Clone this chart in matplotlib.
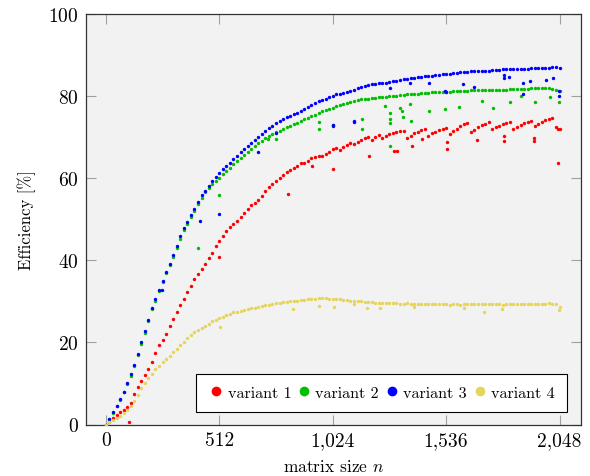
import numpy as np
import matplotlib
matplotlib.use("Agg")
import matplotlib.pyplot as plt
from matplotlib.ticker import FuncFormatter, MultipleLocator
from matplotlib.lines import Line2D

plt.rcParams['font.family'] = ['cmr10', 'DejaVu Serif']
plt.rcParams['mathtext.fontset'] = 'cm'
plt.rcParams['axes.formatter.use_mathtext'] = True

# matrix sizes (regular grid, step 16)
n = np.arange(0, 2049, 16)

variant1 = [
    0.0, 0.7, 1.5, 2.3, 3.0, 3.5, 4.2, 5.2,
    7.5, 9.2, 10.6, 12.0, 13.5, 15.2, 17.3, 19.3,
    20.6, 22.0, 24.0, 25.8, 27.4, 29.0, 30.5, 32.2,
    33.8, 35.4, 36.6, 37.8, 39.2, 40.5, 41.8, 43.5,
    44.8, 46.0, 47.2, 48.2, 48.8, 49.6, 50.6, 51.6,
    52.6, 53.4, 54.0, 54.8, 55.6, 56.8, 57.8, 58.6,
    59.3, 60.0, 60.8, 61.4, 61.9, 62.4, 63.0, 63.6,
    63.8, 64.2, 64.8, 65.2, 65.5, 65.3, 65.9, 66.5,
    67.0, 67.3, 66.9, 67.5, 68.1, 68.6, 68.3, 68.8,
    69.3, 69.7, 70.1, 69.4, 70.0, 70.6, 69.8, 70.3,
    70.7, 71.0, 71.3, 71.5, 71.6, 69.9, 70.4, 70.9,
    71.3, 71.8, 72.0, 70.4, 70.9, 71.3, 71.7, 72.1,
    72.2, 70.8, 71.5, 72.1, 72.7, 73.1, 73.4, 71.3,
    71.8, 72.4, 72.9, 73.3, 73.6, 72.0, 72.4, 72.8,
    73.2, 73.5, 73.7, 72.0, 72.5, 73.0, 73.4, 73.8,
    74.0, 72.8, 73.2, 73.7, 74.1, 74.4, 74.7, 72.4,
    72.0]

variant2 = [
    0.0, 1.3, 2.8, 4.4, 6.0, 7.8, 9.8, 11.9,
    14.2, 16.9, 19.7, 22.4, 25.1, 28.1, 30.1, 32.4,
    34.6, 36.8, 38.8, 40.9, 43.1, 45.3, 47.3, 48.9,
    50.5, 52.0, 53.6, 55.1, 56.6, 57.6, 58.5, 59.3,
    60.1, 61.0, 61.8, 62.6, 63.4, 64.2, 65.0, 65.7,
    66.4, 67.1, 67.8, 68.5, 69.1, 69.7, 70.2, 70.7,
    71.2, 71.6, 72.0, 72.4, 72.8, 73.2, 73.5, 73.9,
    74.3, 74.7, 75.1, 75.5, 75.9, 76.3, 76.6, 76.9,
    77.2, 77.5, 77.8, 78.1, 78.4, 78.6, 78.8, 79.0,
    79.2, 79.3, 79.4, 79.5, 79.6, 79.7, 79.8, 79.9,
    80.0, 80.0, 80.1, 80.2, 80.3, 80.4, 80.5, 80.5,
    80.6, 80.7, 80.8, 80.8, 80.9, 80.9, 81.0, 81.0,
    81.1, 81.1, 81.2, 81.2, 81.3, 81.3, 81.3, 81.4,
    81.4, 81.4, 81.5, 81.5, 81.5, 81.5, 81.5, 81.6,
    81.6, 81.6, 81.7, 81.7, 81.7, 81.8, 81.8, 81.8,
    81.9, 81.9, 81.9, 81.9, 81.9, 81.9, 81.8, 81.6,
    81.3]

variant3 = [
    0.0, 1.4, 3.0, 4.6, 6.2, 8.0, 10.0, 12.2,
    14.5, 17.2, 20.0, 22.7, 25.4, 28.5, 30.5, 32.8,
    35.0, 37.2, 39.2, 41.3, 43.6, 45.8, 47.8, 49.4,
    51.0, 52.5, 54.2, 55.8, 57.0, 58.2, 59.2, 60.2,
    61.2, 62.2, 63.0, 63.8, 64.7, 65.5, 66.3, 67.0,
    67.8, 68.6, 69.4, 70.1, 70.8, 71.5, 72.2, 72.8,
    73.4, 73.9, 74.4, 74.8, 75.2, 75.6, 75.9, 76.3,
    76.8, 77.3, 77.8, 78.3, 78.7, 79.1, 79.4, 79.8,
    80.1, 80.4, 80.6, 80.8, 81.0, 81.3, 81.6, 81.9,
    82.2, 82.5, 82.7, 82.9, 83.0, 83.1, 83.2, 83.3,
    83.4, 83.6, 83.7, 83.9, 84.1, 84.2, 84.4, 84.5,
    84.6, 84.7, 84.8, 84.9, 85.0, 85.1, 85.2, 85.3,
    85.4, 85.5, 85.6, 85.7, 85.8, 85.8, 85.9, 86.0,
    86.0, 86.1, 86.1, 86.2, 86.2, 86.3, 86.4, 86.4,
    86.5, 86.5, 86.6, 86.6, 86.6, 86.7, 86.7, 86.7,
    86.8, 86.8, 86.8, 86.9, 86.9, 86.9, 87.0, 87.0,
    86.8]

variant4 = [
    0.0, 0.5, 1.0, 1.6, 2.1, 2.8, 3.6, 4.6,
    5.8, 7.3, 8.8, 10.0, 11.3, 12.4, 13.4, 14.3,
    15.2, 16.0, 16.8, 17.6, 18.5, 19.3, 20.2, 21.0,
    21.8, 22.5, 23.1, 23.6, 24.1, 24.6, 25.1, 25.5,
    25.9, 26.3, 26.7, 27.0, 27.3, 27.5, 27.7, 27.9,
    28.1, 28.3, 28.5, 28.7, 28.9, 29.0, 29.2, 29.3,
    29.5, 29.6, 29.8, 29.9, 30.0, 30.1, 30.2, 30.3,
    30.4, 30.5, 30.6, 30.6, 30.7, 30.7, 30.7, 30.6,
    30.6, 30.5, 30.5, 30.4, 30.3, 30.2, 30.1, 30.0,
    30.0, 29.9, 29.8, 29.8, 29.7, 29.7, 29.6, 29.6,
    29.5, 29.5, 29.5, 29.4, 29.4, 29.5, 29.4, 29.4,
    29.4, 29.3, 29.3, 29.4, 29.3, 29.3, 29.3, 29.3,
    29.3, 29.2, 29.3, 29.3, 29.2, 29.3, 29.3, 29.3,
    29.3, 29.4, 29.3, 29.3, 29.3, 29.3, 29.3, 29.3,
    29.2, 29.3, 29.3, 29.4, 29.3, 29.3, 29.4, 29.4,
    29.3, 29.4, 29.4, 29.4, 29.4, 29.5, 29.4, 29.3,
    28.6]

# scattered outlier measurements
out1_n = [105, 512, 824, 930, 1025, 1186, 1299, 1314, 1382, 1427, 1540, 1540,
          1676, 1796, 1796, 1932, 1932, 2040, 2040]
out1_e = [0.7, 40.9, 56.1, 63.0, 62.2, 65.3, 66.7, 66.7, 67.9, 69.5, 67.1, 68.7,
          69.3, 70.2, 69.1, 69.9, 69.1, 63.8, 71.9]
out2_n = [417, 512, 734, 769, 960, 960, 1025, 1156, 1156, 1261, 1284, 1284, 1284,
          1284, 1329, 1337, 1340, 1374, 1379, 1460, 1533, 1593, 1698, 1746, 1826,
          1872, 1939, 2007, 2044]
out2_e = [43.1, 55.9, 69.5, 69.5, 73.7, 72.1, 73.0, 74.4, 72.1, 77.6, 76.0, 74.4,
          73.4, 67.9, 77.2, 76.4, 74.8, 78.0, 74.0, 76.4, 76.8, 77.4, 78.9, 77.2,
          78.6, 80.1, 78.5, 79.7, 78.6]
out3_n = [255, 425, 512, 689, 769, 1025, 1025, 1118, 1121, 1281, 1371, 1457, 1533,
          1537, 1612, 1660, 1796, 1796, 1819, 1884, 1884, 1914, 1989, 2019, 2044, 2044]
out3_e = [32.7, 49.5, 51.2, 66.5, 71.0, 72.6, 72.9, 73.8, 74.0, 81.9, 83.3, 83.1,
          81.3, 80.9, 82.9, 82.1, 85.1, 84.3, 84.6, 83.3, 80.6, 83.6, 84.0, 84.3,
          81.3, 80.1]
out4_n = [515, 847, 964, 1028, 1118, 1178, 1238, 1389, 1615, 1706, 1789, 2044]
out4_e = [23.8, 28.2, 28.9, 28.7, 29.3, 28.5, 28.5, 28.7, 28.5, 27.5, 28.2, 27.9]

labels = ['variant 1', 'variant 2', 'variant 3', 'variant 4']
colors = ['#ff0000', '#00bf00', '#0000ff', '#e6d55c']
series = [variant1, variant2, variant3, variant4]
outs = [(out1_n, out1_e), (out2_n, out2_e), (out3_n, out3_e), (out4_n, out4_e)]
xticks = [0, 512, 1024, 1536, 2048]

fig = plt.figure(figsize=(5.9, 4.77), dpi=100)
ax = fig.add_axes([85.5 / 590, 1 - 425.5 / 477, 495.5 / 590, 410.5 / 477])
ax.set_facecolor('#f2f2f2')

for vals, (on, oe), c in zip(series, outs, colors):
    ax.scatter(n, vals, s=6, color=c, linewidths=0, zorder=3)
    ax.scatter(on, oe, s=6, color=c, linewidths=0, zorder=3)

ax.set_xlim(-92, 2145)
ax.set_ylim(0, 100)
ax.set_xticks(xticks)
ax.yaxis.set_major_locator(MultipleLocator(20))
ax.xaxis.set_major_formatter(FuncFormatter(lambda v, p: f"{int(v):,}"))
ax.tick_params(direction='in', length=7, width=0.8, color='#a0a0a0',
               top=True, right=True, labelsize=14, pad=5)
for s in ax.spines.values():
    s.set_linewidth(0.9)
    s.set_color('#333333')

ax.set_xlabel('matrix size $n$', fontsize=12.5, labelpad=6)
ax.set_ylabel('Efficiency [%]', fontsize=12, labelpad=9)

handles = [Line2D([], [], linestyle='none', marker='o', markersize=7,
                  color=c, markeredgewidth=0) for c in colors]
leg = ax.legend(handles, labels, loc='lower right', ncol=4, fontsize=11.6,
                frameon=True, fancybox=False, framealpha=1, edgecolor='black',
                handletextpad=0.2, columnspacing=0.3, handlelength=1.0,
                borderpad=0.75, borderaxespad=0.0,
                bbox_to_anchor=(0.9718, 0.0305))
leg.get_frame().set_linewidth(0.8)

fig.savefig('out.png', dpi=100)
